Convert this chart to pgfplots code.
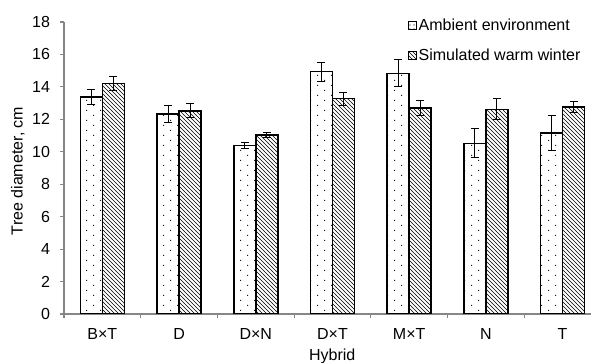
\documentclass[border=0pt]{standalone}
\usepackage{fontspec}
\setmainfont{Liberation Sans}
\usepackage{pgfplots}
\pgfplotsset{compat=1.18}
\usetikzlibrary{patterns}
\pgfdeclarepatternformonly{sparsedots}{\pgfqpoint{-1pt}{-1pt}}{\pgfqpoint{11.5pt}{8.5pt}}{\pgfqpoint{10.5pt}{7.5pt}}{%
 \pgfpathcircle{\pgfqpoint{2pt}{2pt}}{0.45pt}%
 \pgfpathcircle{\pgfqpoint{7.25pt}{5.75pt}}{0.45pt}%
 \pgfusepath{fill}}
\pgfdeclarepatternformonly{smalldots}{\pgfqpoint{-1pt}{-1pt}}{\pgfqpoint{4pt}{4pt}}{\pgfqpoint{3pt}{3pt}}{%
 \pgfpathcircle{\pgfqpoint{1.5pt}{1.5pt}}{0.4pt}%
 \pgfusepath{fill}}
\definecolor{axgray}{RGB}{134,134,134}
\newcommand{\cfont}{\fontsize{12}{14}\selectfont}
\begin{document}
\begin{tikzpicture}
\begin{axis}[
 scale only axis, width=395.25pt, height=219pt,
 ymin=0, ymax=18, ytick={0,2,...,18},
 xmin=-0.5, xmax=6.37,
 xtick={0,...,6}, xticklabels={B×T,D,D×N,D×T,M×T,N,T},
 minor xtick={-0.5,0.5,...,5.5},
 axis x line*=bottom, axis y line*=left,
 axis line style={axgray, line width=0.8pt},
 tick align=outside,
 major tick length=3pt, minor tick length=3pt,
 major x tick style={draw=none},
 minor x tick style={axgray, line width=0.8pt},
 major y tick style={axgray, line width=0.8pt},
 /pgf/number format/assume math mode=true,
 tick label style={font=\cfont},
 yticklabel style={xshift=-4pt},
 xticklabel style={yshift=-4pt},
 ylabel={Tree diameter, cm},
 xlabel={Hybrid},
 ylabel style={at={(axis description cs:-0.0878,0.49)}, anchor=center, font=\cfont},
 xlabel style={at={(axis description cs:0.509,-0.1438)}, anchor=center, font=\cfont},
 ybar=0pt, bar width=16.5pt,
 legend style={draw=none, fill=none, at={(axis description cs:0.652,1.018)}, anchor=north west,
   row sep=9pt, font=\cfont, inner sep=0pt,
   nodes={inner sep=1.5pt}},
 legend cell align=left,
 legend image code/.code={\draw[#1, line width=0.6pt] (0pt,-3pt) rectangle (6pt,3pt);},
 legend entries={Ambient environment, Simulated warm winter},
]
\addlegendimage{draw=black, line width=0.6pt, fill=white, postaction={pattern=smalldots}}
\addlegendimage{draw=black, line width=0.6pt, fill=white, postaction={pattern=north west lines}}
\addplot[draw=black, line width=1.1pt, fill=white, postaction={pattern=sparsedots},
 error bars/.cd, y dir=both, y explicit,
 error bar style={line width=0.8pt, black},
 error mark options={rotate=90, mark size=3pt, line width=0.8pt, black}]
 coordinates {
 (0,13.38) +- (0,0.48)
 (1,12.33) +- (0,0.50)
 (2,10.38) +- (0,0.17)
 (3,14.94) +- (0,0.59)
 (4,14.84) +- (0,0.83)
 (5,10.52) +- (0,0.89)
 (6,11.16) +- (0,1.07)
 };
\addplot[draw=black, line width=1.1pt, fill=white, postaction={pattern=north west lines},
 error bars/.cd, y dir=both, y explicit,
 error bar style={line width=0.8pt, black},
 error mark options={rotate=90, mark size=3pt, line width=0.8pt, black}]
 coordinates {
 (0,14.20) +- (0,0.42)
 (1,12.52) +- (0,0.43)
 (2,11.04) +- (0,0.17)
 (3,13.27) +- (0,0.40)
 (4,12.70) +- (0,0.45)
 (5,12.62) +- (0,0.65)
 (6,12.76) +- (0,0.33)
 };
\end{axis}
\pgfresetboundingbox
\path (-48pt,-36.75pt) rectangle (396pt,235.5pt);
\end{tikzpicture}
\end{document}
